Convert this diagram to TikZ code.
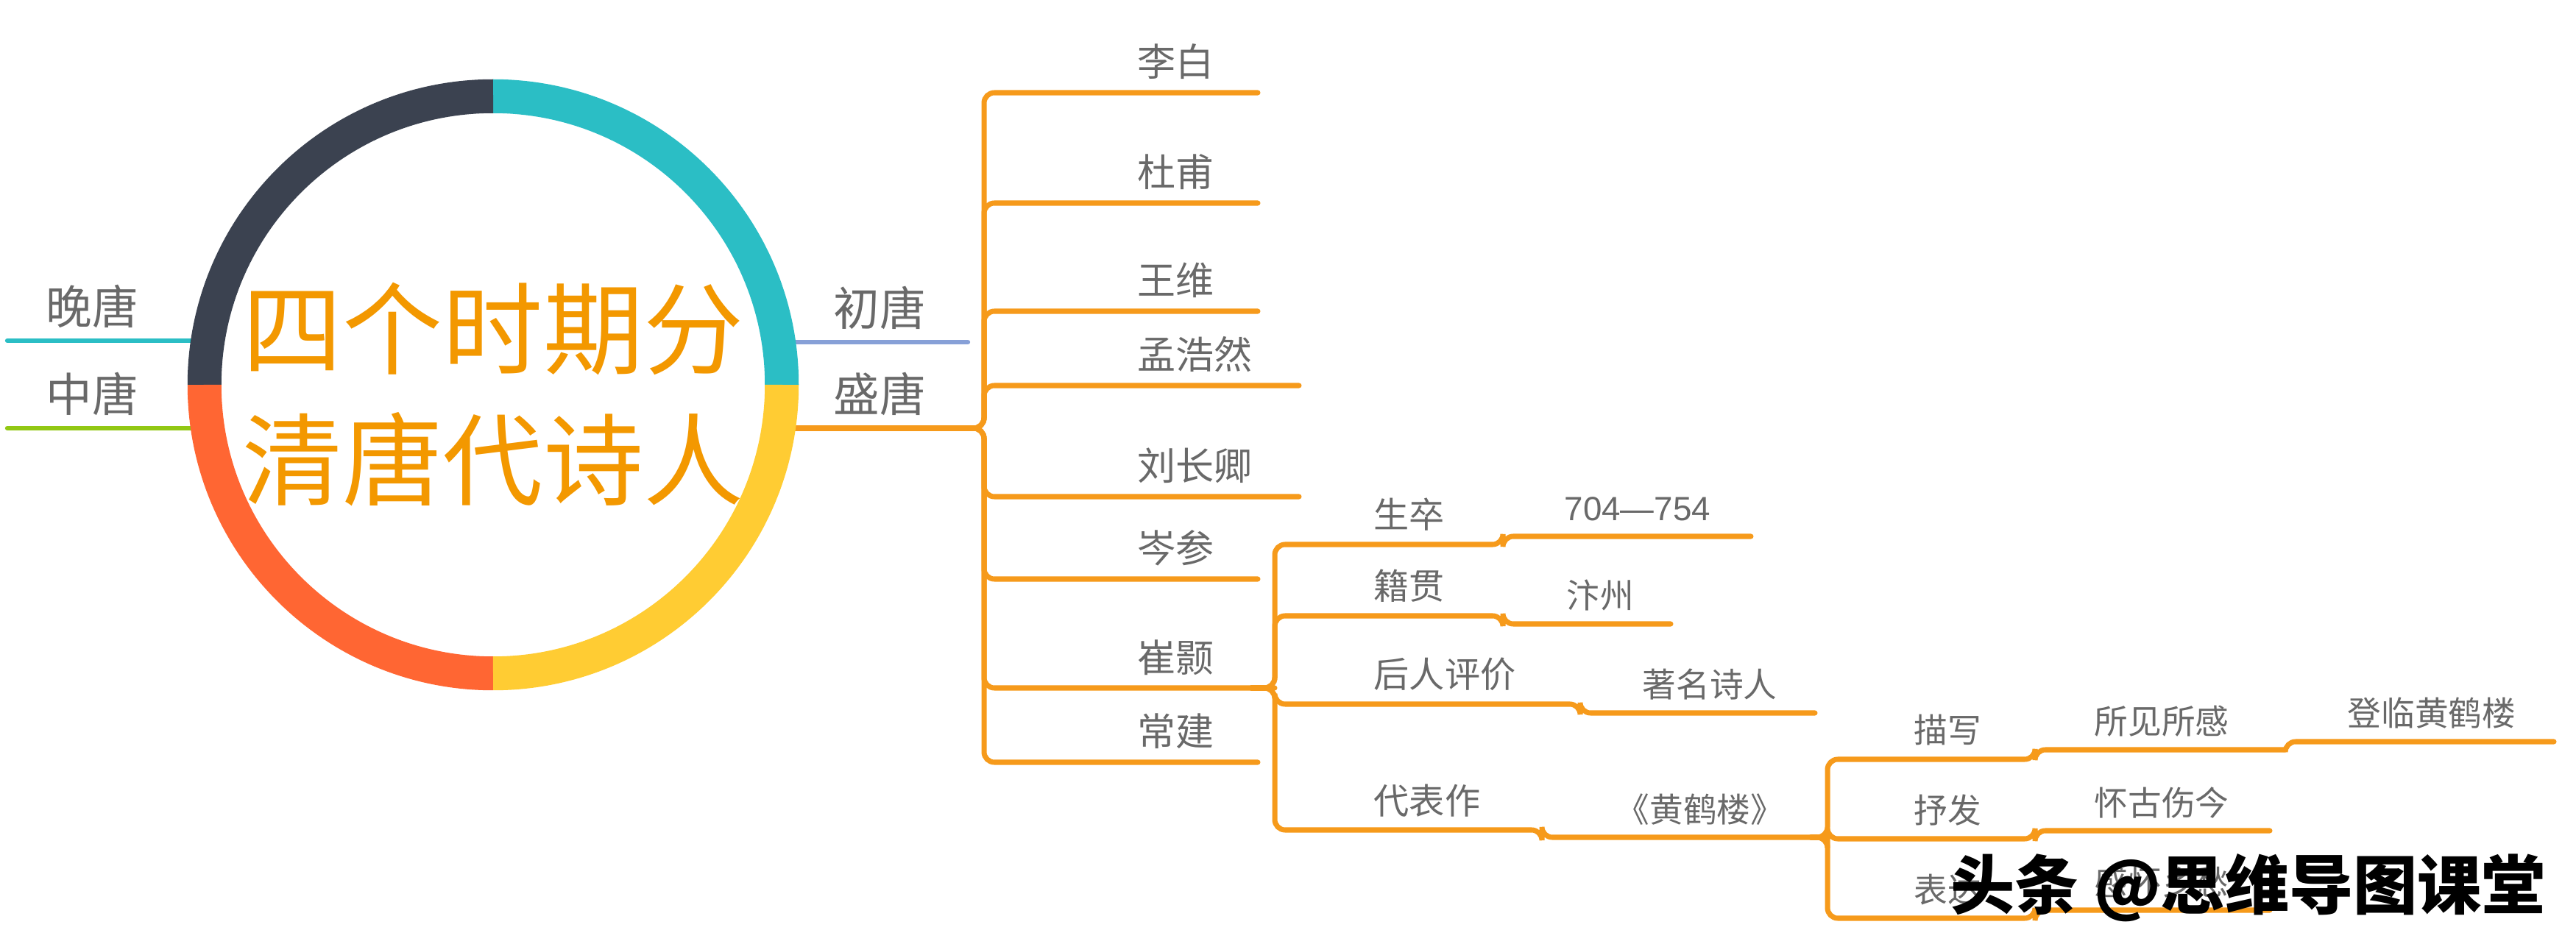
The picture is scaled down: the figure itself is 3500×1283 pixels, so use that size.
\documentclass[tikz,border=0pt]{standalone}
\usepackage{fontspec}
\newfontfamily\cjk{Noto Sans CJK SC}
\newfontfamily\arialish{Liberation Sans}
\definecolor{twigorange}{RGB}{246,154,27}
\definecolor{hubtext}{RGB}{243,152,0}
\definecolor{labelgray}{RGB}{105,105,105}
\definecolor{ringteal}{RGB}{43,190,197}
\definecolor{ringdark}{RGB}{59,66,80}
\definecolor{ringred}{RGB}{255,102,51}
\definecolor{ringyellow}{RGB}{255,204,51}
\definecolor{erablue}{RGB}{135,160,215}
\definecolor{eragreen}{RGB}{146,200,20}
\begin{document}
\begin{tikzpicture}[x=0.01cm, y=-0.01cm, line cap=round]
      \tikzset{
	  ring/.style={line width=0.46cm, line cap=butt},
	  era/.style={text=labelgray, font=\cjk\fontsize{17.8pt}{19pt}\selectfont, inner sep=0pt, anchor=base},
	  poet/.style={text=labelgray, font=\cjk\fontsize{14.8pt}{16pt}\selectfont, inner sep=0pt, anchor=base west},
	  facet/.style={text=labelgray, font=\cjk\fontsize{13.7pt}{15pt}\selectfont, inner sep=0pt, anchor=base west},
	  detail/.style={text=labelgray, font=\cjk\fontsize{13pt}{15pt}\selectfont, inner sep=0pt, anchor=base west},
	  eraline/.style={line width=1.8pt},
	  twig/.style={draw=twigorange, line width=2pt, rounded corners=4pt}
      }

      \fill[white] (0,0) rectangle (3500,1283);
      \useasboundingbox (0,0) rectangle (3500,1283);

      % eras round the hub
      \coordinate (ctr) at (670,523);
      \coordinate (wan-w) at (10,463);   \coordinate (wan-e) at (262,463);
      \coordinate (zhong-w) at (10,582); \coordinate (zhong-e) at (262,582);
      \coordinate (chu-w) at (1078,465); \coordinate (chu-e) at (1315,465);
      \coordinate (sheng-w) at (1078,582);
      \coordinate (jn1) at (1337,582);

      \draw[eraline, ringteal] (wan-w) -- (wan-e);
      \draw[eraline, eragreen] (zhong-w) -- (zhong-e);
      \draw[eraline, erablue] (chu-w) -- (chu-e);
      \node[era] (wan) at (125,441) {晚唐};
      \node[era] (zhong) at (125,560) {中唐};
      \node[era] (chu) at (1195,443) {初唐};
      \node[era] (sheng) at (1195,560) {盛唐};

      % poets of sheng tang
      \foreach \nm/\txt/\ly/\ex in {libai/李白/126/1709, dufu/杜甫/276/1709, wangwei/王维/423/1709,
          menghr/孟浩然/524/1765, liucq/刘长卿/675/1765, censhen/岑参/787/1709,
          cuihao/崔颢/935/1732, changjian/常建/1036/1709} {
        \node[poet] (\nm) at (1545,\ly-22) {\txt};
        \coordinate (\nm-end) at (\ex,\ly);
        \draw[twig] (sheng-w) -- (jn1) |- (\nm-end);
      }

      % cui hao
      \coordinate (jn2) at (cuihao-end);
      \coordinate (cuihao-in) at (1700,935);
      \foreach \nm/\txt/\ly/\sx/\sy/\ex/\dx/\dtxt in {shengzu/生卒/740/2042/729/2379/2125/{\arialish 704—754},
          jiguan/籍贯/837/2042/848/2270/2128/汴州, pingjia/后人评价/957/2147/969/2466/2231/著名诗人,
          daibiao/代表作/1128/2095/1138/2483/2195/《黄鹤楼》} {
        \node[facet] (\nm) at (1866,\ly-22) {\txt};
        \node[detail] (\nm-val) at (\dx,\sy-21) {\dtxt};
        \coordinate (\nm-end) at (\ex,\sy);
        \draw[twig] (cuihao-in) -- (jn2) |- (\sx,\ly) -- (\sx,\sy) -- (\nm-end);
      }

      % huang he lou
      \coordinate (jn3) at (daibiao-end);
      \coordinate (daibiao-in) at (2460,1138);
      \foreach \nm/\txt/\ly/\sy/\ex/\dtxt in {miaoxie/描写/1032/1019/3105/所见所感,
          shufa/抒发/1140/1129/3084/怀古伤今, biaoda/表达/1248/1237/3084/感怀乡愁} {
        \node[detail] (\nm) at (2600,\ly-22) {\txt};
        \node[detail] (\nm-val) at (2845,\sy-21) {\dtxt};
        \coordinate (\nm-end) at (\ex,\sy);
        \draw[twig] (daibiao-in) -- (jn3) |- (2765,\ly) -- (2765,\sy) -- (\nm-end);
      }
      \node[detail] (denglin) at (3189,987) {登临黄鹤楼};
      \coordinate (denglin-end) at (3470,1008);
      \draw[twig] (miaoxie-end) -- (3105,1008) -- (denglin-end);

      % the hub
      \draw[ring, ringteal] (ctr) ++(0:3.92cm) arc[start angle=0, end angle=90, radius=3.92cm];
      \draw[ring, ringdark] (ctr) ++(90:3.92cm) arc[start angle=90, end angle=180, radius=3.92cm];
      \draw[ring, ringred] (ctr) ++(180:3.92cm) arc[start angle=180, end angle=270, radius=3.92cm];
      \draw[ring, ringyellow] (ctr) ++(270:3.92cm) arc[start angle=270, end angle=360, radius=3.92cm];
      \node[text=hubtext, align=center, inner sep=0pt, font=\cjk\fontsize{38.7pt}{50.6pt}\selectfont] (hub) at (670,536) {四个时期分\\清唐代诗人};

      \node[anchor=base west, inner sep=0pt, font=\cjk\bfseries\fontsize{24.8pt}{26pt}\selectfont] (mark) at (2650,1235) {头条 @思维导图课堂};
\end{tikzpicture}
\end{document}
